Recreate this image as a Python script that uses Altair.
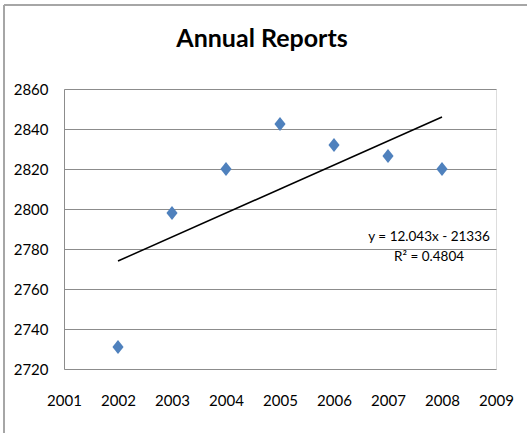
import altair as alt
import pandas as pd

years = [2002, 2003, 2004, 2005, 2006, 2007, 2008]
reports = [2731, 2798, 2820, 2842.5, 2832, 2826.5, 2820]
eq_lines = ["y = 12.043x - 21336", "R\u00b2 = 0.4804"]
eq_x = [2007.76, 2007.76]
eq_y = [2786, 2776]
x_ticks = list(range(2001, 2010))
y_ticks = list(range(2720, 2861, 20))
title_text = ["Annual Reports"]

df = pd.DataFrame({"year": years, "value": reports})
eq_df = pd.DataFrame({"text": eq_lines, "x": eq_x, "y": eq_y})
title_df = pd.DataFrame({"t": title_text})

FONT = "Lato"

xs = alt.Scale(domain=[2001, 2009], nice=False, zero=False)
ys = alt.Scale(domain=[2720, 2860], nice=False, zero=False)

xaxis = alt.Axis(values=x_ticks, format="d", grid=False, domain=False, ticks=False,
                 labelPadding=24, labelFontSize=15, labelFont=FONT, labelColor="black",
                 labelFlush=False, labelOverlap=False, title=None)
yaxis = alt.Axis(values=y_ticks, format="d", grid=True, gridColor="#8c8c8c", gridWidth=1.2,
                 domain=True, domainColor="#8c8c8c", ticks=False, labelPadding=16,
                 labelFontSize=15, labelFont=FONT, labelColor="black",
                 labelFlush=False, labelOverlap=False, title=None)

base = alt.Chart(df)

points = base.mark_point(shape="M0,-1.25L1,0L0,1.25L-1,0Z", filled=True, size=125,
                         color="#4F81BD", opacity=1).encode(
    x=alt.X("year:Q", scale=xs, axis=xaxis),
    y=alt.Y("value:Q", scale=ys, axis=yaxis),
)

trend = base.transform_regression("year", "value", method="linear").mark_line(
    color="black", strokeWidth=1.5
).encode(
    x=alt.X("year:Q", scale=xs, axis=xaxis),
    y=alt.Y("value:Q", scale=ys, axis=yaxis),
)

eq = alt.Chart(eq_df).mark_text(font=FONT, fontSize=13.5, color="black", align="center",
                                baseline="middle").encode(
    x=alt.X("x:Q", scale=xs, axis=xaxis),
    y=alt.Y("y:Q", scale=ys, axis=yaxis),
    text="text:N",
)

title = alt.Chart(title_df).mark_text(font=FONT, fontSize=25, fontWeight="bold", color="black",
                                      align="center", baseline="alphabetic").encode(
    x=alt.value(198), y=alt.value(-42), text="t:N"
)

border_left = alt.Chart(title_df).mark_rule(color="#a6a6a6", strokeWidth=2).encode(
    x=alt.value(-60), y=alt.value(-84), y2=alt.value(400)
)
border_top = alt.Chart(title_df).mark_rule(color="#a6a6a6", strokeWidth=2).encode(
    x=alt.value(-60), x2=alt.value(470), y=alt.value(-84)
)

chart = alt.layer(points, trend, eq, title, border_left, border_top).properties(
    width=432, height=280,
    autosize=alt.AutoSizeParams(type="none"),
    padding={"left": 64, "top": 89, "right": 31, "bottom": 64},
).configure_view(stroke=None).configure(background="white")

chart.save("out.html", embed_options={"renderer": "svg", "actions": False})
